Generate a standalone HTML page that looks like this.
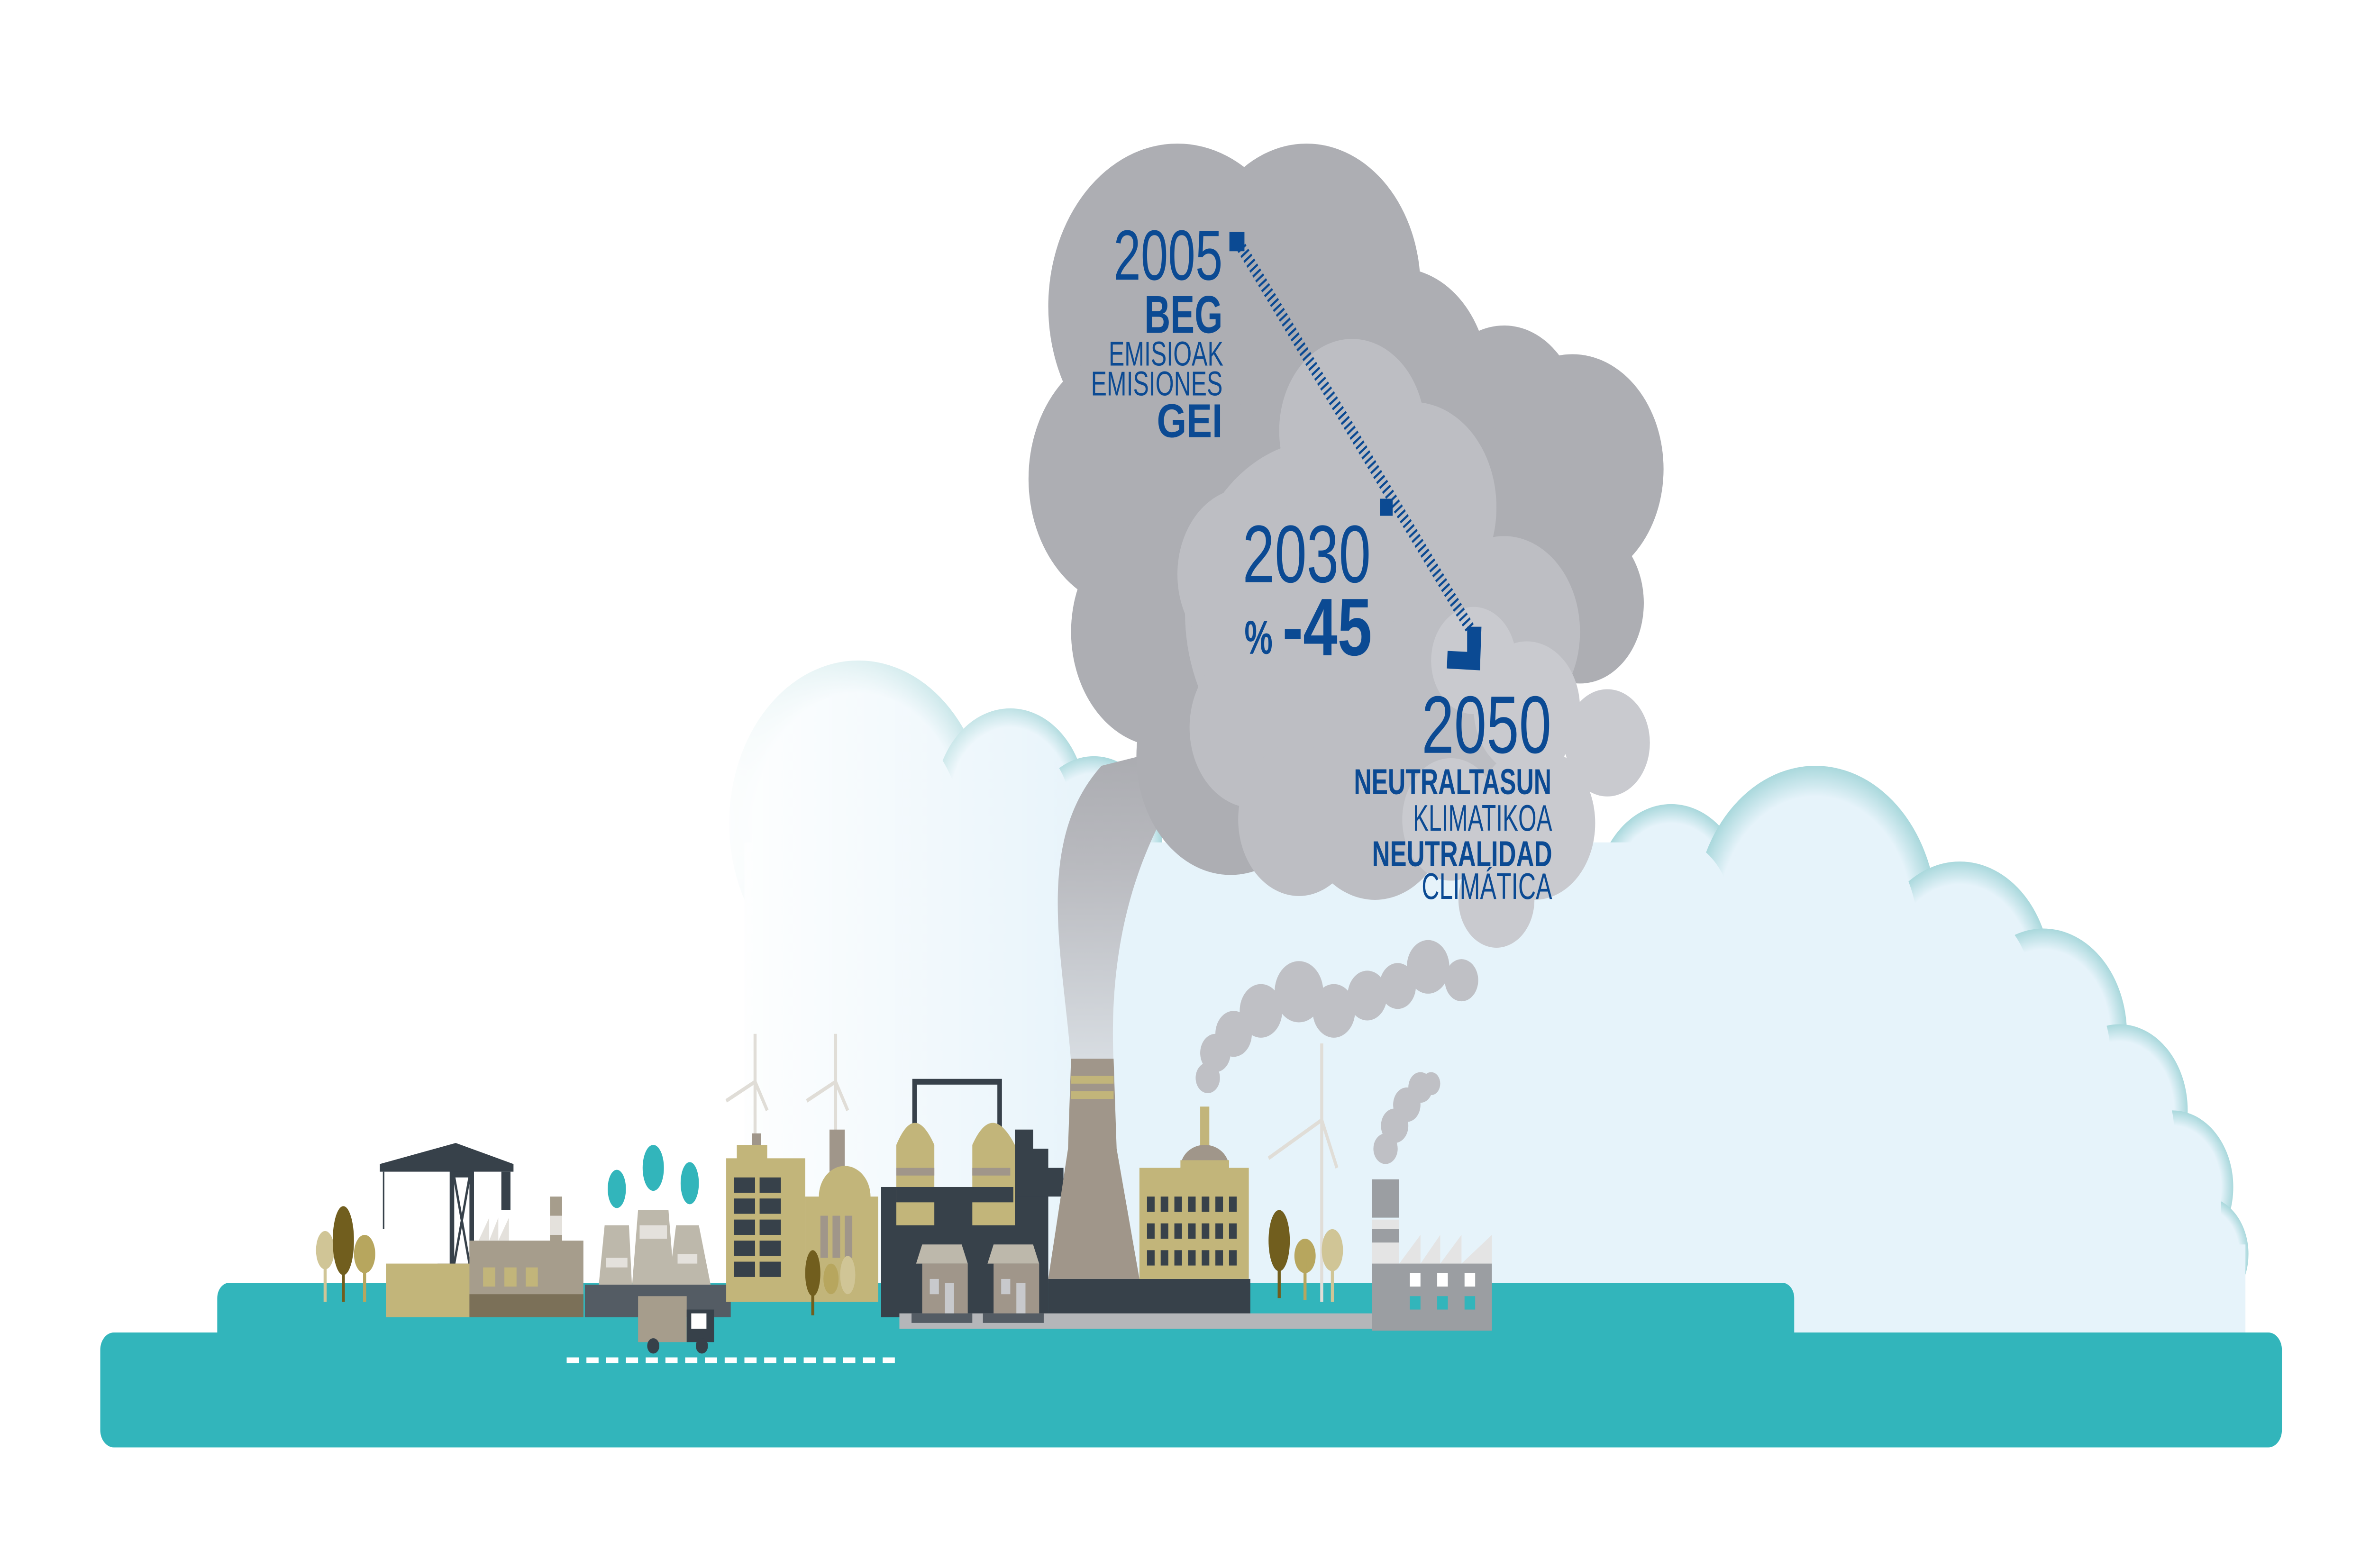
<!DOCTYPE html>
<html><head><meta charset="utf-8"><style>
html,body{margin:0;padding:0;background:#fff;width:100%;height:100%;overflow:hidden;}
svg{display:block;position:absolute;left:0;top:0;width:100vw;height:100vh;}
text{font-family:"Liberation Sans",sans-serif;fill:#0b4a93;}
.b{font-weight:bold;}
</style></head><body>
<svg viewBox="0 0 1560 819" preserveAspectRatio="none" xmlns="http://www.w3.org/2000/svg">
<defs>
<radialGradient id="bc" cx="0.5" cy="0.5" r="0.5">
<stop offset="0.8" stop-color="#e6f3fa"/><stop offset="1" stop-color="#a9d8dc"/></radialGradient>
<linearGradient id="wf" x1="0" x2="1" y1="0" y2="0">
<stop offset="0" stop-color="#fff" stop-opacity="1"/><stop offset="1" stop-color="#fff" stop-opacity="0"/></linearGradient>
<linearGradient id="pl" x1="0" x2="0" y1="1" y2="0">
<stop offset="0" stop-color="#d8dde2"/><stop offset="0.6" stop-color="#b9babf"/><stop offset="1" stop-color="#a9aaaf"/></linearGradient>
</defs>
<g fill="url(#bc)">
<circle cx="565" cy="430" r="85"/><circle cx="665" cy="420" r="50"/><circle cx="720" cy="440" r="45"/>
<circle cx="1100" cy="470" r="50"/><circle cx="1195" cy="480" r="80"/><circle cx="1290" cy="510" r="60"/>
<circle cx="1345" cy="540" r="55"/><circle cx="1395" cy="580" r="45"/><circle cx="1430" cy="620" r="40"/><circle cx="1450" cy="655" r="30"/>
</g>
<g fill="#e6f3fa">
<polygon points="490,696 490,440 1080,440 1080,475 1260,475 1260,525 1320,525 1320,565 1380,565 1380,610 1420,610 1420,650 1478,650 1478,696"/>
<circle cx="565" cy="440" r="70"/><circle cx="665" cy="425" r="40"/><circle cx="720" cy="445" r="36"/>
<circle cx="1100" cy="478" r="40"/><circle cx="1195" cy="490" r="68"/><circle cx="1290" cy="520" r="48"/>
<circle cx="1345" cy="550" r="44"/><circle cx="1395" cy="590" r="36"/><circle cx="1430" cy="630" r="32"/><circle cx="1450" cy="662" r="24"/>
</g>
<rect x="470" y="330" width="260" height="380" fill="url(#wf)"/>
<path d="M705,555 C700,500 680,440 725,400 L800,385 C765,420 728,470 733,555 Z" fill="url(#pl)"/>
<g fill="#adaeb3">
<circle cx="775" cy="160" r="85"/><circle cx="860" cy="150" r="75"/><circle cx="920" cy="200" r="60"/>
<circle cx="1035" cy="245" r="60"/><circle cx="990" cy="220" r="50"/><circle cx="745" cy="250" r="68"/>
<circle cx="765" cy="330" r="60"/><circle cx="810" cy="395" r="62"/><circle cx="1040" cy="315" r="42"/>
<circle cx="880" cy="300" r="100"/><circle cx="960" cy="300" r="80"/>
</g>
<g fill="#bdbec3">
<circle cx="890" cy="225" r="48"/><circle cx="870" cy="320" r="90"/><circle cx="820" cy="300" r="45"/>
<circle cx="825" cy="380" r="42"/><circle cx="855" cy="428" r="40"/><circle cx="930" cy="265" r="55"/>
<circle cx="990" cy="330" r="50"/><circle cx="960" cy="380" r="70"/><circle cx="905" cy="420" r="50"/>
</g>
<g fill="#c9cacf">
<circle cx="970" cy="345" r="28"/><circle cx="1005" cy="370" r="35"/><circle cx="1058" cy="388" r="28"/>
<circle cx="1010" cy="430" r="40"/><circle cx="985" cy="470" r="25"/><circle cx="955" cy="428" r="32"/>
</g>
<g fill="#bfc0c5">
<circle cx="795" cy="563" r="8"/><circle cx="800" cy="550" r="10"/><circle cx="812" cy="540" r="12"/>
<circle cx="830" cy="528" r="14"/><circle cx="855" cy="518" r="16"/><circle cx="878" cy="528" r="14"/>
<circle cx="900" cy="520" r="13"/><circle cx="920" cy="515" r="12"/><circle cx="940" cy="505" r="14"/><circle cx="962" cy="512" r="11"/>
<circle cx="912" cy="600" r="8"/><circle cx="918" cy="588" r="9"/><circle cx="926" cy="577" r="9"/><circle cx="935" cy="568" r="8"/><circle cx="942" cy="566" r="6"/>
</g>
<rect x="143" y="670" width="1038" height="40" rx="8" fill="#32b5bb"/>
<rect x="66" y="696" width="1436" height="60" rx="9" fill="#32b5bb"/>
<g fill="#d0c596"><ellipse cx="214" cy="653" rx="6" ry="10"/><rect x="213" y="655" width="2" height="25"/></g>
<g fill="#715e1e"><ellipse cx="226" cy="648" rx="7" ry="18"/><rect x="225" y="650" width="2" height="30"/></g>
<g fill="#b7a65e"><ellipse cx="240" cy="655" rx="7" ry="10"/><rect x="239" y="656" width="2" height="24"/></g>
<g fill="#37414a">
<rect x="296" y="608" width="16" height="54"/>
<polygon points="250,608 300,597 338,608 338,612 250,612"/>
<rect x="330" y="612" width="6" height="20"/>
<rect x="252" y="612" width="1" height="30"/>
<rect x="288" y="660" width="22" height="6"/>
</g>
<g fill="#fff"><rect x="299" y="615" width="10" height="45"/></g>
<g stroke="#37414a" stroke-width="1.5"><line x1="299" y1="615" x2="309" y2="660"/><line x1="309" y1="615" x2="299" y2="660"/></g>
<rect x="254" y="660" width="56" height="28" fill="#c2b57a"/>
<rect x="309" y="648" width="75" height="40" fill="#a69d8c"/>
<rect x="309" y="676" width="75" height="12" fill="#7b7058"/>
<polygon points="315,648 322,636 322,648 328,636 328,648 335,636 335,648" fill="#e4e1dc"/>
<rect x="362" y="625" width="8" height="30" fill="#a69d8c"/><rect x="362" y="635" width="8" height="10" fill="#e4e1dc"/>
<g fill="#c2b57a"><rect x="318" y="662" width="8" height="10"/><rect x="332" y="662" width="8" height="10"/><rect x="346" y="662" width="8" height="10"/></g>
<g fill="#bdb8ab">
<polygon points="398,640 414,640 416,672 394,672"/><polygon points="420,632 440,632 444,672 416,672"/><polygon points="445,640 460,640 468,672 440,672"/>
</g>
<g fill="#e4e1dc"><rect x="399" y="657" width="14" height="5"/><rect x="421" y="640" width="18" height="7"/><rect x="446" y="655" width="13" height="5"/></g>
<g fill="#32b5bb"><ellipse cx="406" cy="621" rx="6" ry="10"/><ellipse cx="430" cy="610" rx="7" ry="12"/><ellipse cx="454" cy="618" rx="6" ry="11"/></g>
<rect x="385" y="671" width="96" height="17" fill="#545c64"/>
<rect x="420" y="677" width="32" height="24" fill="#a69d8c"/>
<rect x="452" y="684" width="18" height="17" fill="#37414a"/><rect x="455" y="686" width="10" height="8" fill="#fff"/>
<circle cx="430" cy="703" r="4" fill="#37414a"/><circle cx="462" cy="703" r="4" fill="#37414a"/>
<g stroke="#e0ddd7" stroke-width="2" fill="none">
<line x1="497" y1="540" x2="497" y2="598"/><polyline points="478,575 497,565 505,580"/>
<line x1="550" y1="540" x2="550" y2="598"/><polyline points="531,575 550,565 558,580"/>
<line x1="870" y1="545" x2="870" y2="680"/><polyline points="835,605 870,585 880,610"/>
</g>
<rect x="495" y="592" width="6" height="10" fill="#a0968a"/>
<rect x="478" y="605" width="52" height="75" fill="#c2b57a"/><rect x="485" y="598" width="20" height="8" fill="#c2b57a"/>
<g fill="#37414a">
<rect x="483" y="615" width="14" height="8"/><rect x="483" y="626" width="14" height="8"/><rect x="483" y="637" width="14" height="8"/><rect x="483" y="648" width="14" height="8"/><rect x="483" y="659" width="14" height="8"/>
<rect x="500" y="615" width="14" height="8"/><rect x="500" y="626" width="14" height="8"/><rect x="500" y="637" width="14" height="8"/><rect x="500" y="648" width="14" height="8"/><rect x="500" y="659" width="14" height="8"/>
</g>
<rect x="546" y="590" width="10" height="25" fill="#a0968a"/>
<ellipse cx="556" cy="625" rx="17" ry="16" fill="#c2b57a"/>
<rect x="530" y="625" width="48" height="55" fill="#c2b57a"/>
<g fill="#a0968a"><rect x="540" y="635" width="5" height="22"/><rect x="548" y="635" width="5" height="22"/><rect x="556" y="635" width="5" height="22"/></g>
<g fill="#715e1e"><ellipse cx="535" cy="665" rx="5" ry="12"/><rect x="534" y="670" width="2" height="17"/></g>
<g fill="#b7a65e"><ellipse cx="547" cy="668" rx="5" ry="8"/></g><g fill="#d0c596"><ellipse cx="558" cy="666" rx="5" ry="10"/></g>
<rect x="580" y="620" width="110" height="68" fill="#37414a"/>
<path d="M602,598 L602,565 L658,565 L658,598" stroke="#37414a" stroke-width="3" fill="none"/>
<polygon points="668,590 680,590 680,600 690,600 690,610 700,610 700,625 668,625" fill="#37414a"/>
<g fill="#c2b57a">
<path d="M590,640 L590,598 Q602,575 615,598 L615,640 Z"/><path d="M640,640 L640,598 Q653,575 668,598 L668,640 Z"/>
</g>
<g fill="#a0968a"><rect x="590" y="610" width="25" height="4"/><rect x="640" y="610" width="25" height="4"/></g>
<g fill="#37414a"><rect x="590" y="620" width="26" height="8"/><rect x="639" y="620" width="28" height="8"/></g>
<polygon points="705,553 733,553 735,600 750,668 690,668 703,600" fill="#a0968a"/>
<g fill="#c2b57a"><rect x="705" y="562" width="28" height="4"/><rect x="705" y="570" width="28" height="4"/></g>
<rect x="690" y="668" width="133" height="20" fill="#37414a"/>
<rect x="790" y="578" width="6" height="22" fill="#c2b57a"/>
<ellipse cx="793" cy="610" rx="16" ry="12" fill="#a0968a"/>
<rect x="750" y="610" width="72" height="58" fill="#c2b57a"/><rect x="777" y="606" width="32" height="8" fill="#c2b57a"/>
<g fill="#37414a">
<rect x="755" y="625" width="5" height="8"/><rect x="764" y="625" width="5" height="8"/><rect x="773" y="625" width="5" height="8"/><rect x="782" y="625" width="5" height="8"/><rect x="791" y="625" width="5" height="8"/><rect x="800" y="625" width="5" height="8"/><rect x="809" y="625" width="5" height="8"/>
<rect x="755" y="639" width="5" height="8"/><rect x="764" y="639" width="5" height="8"/><rect x="773" y="639" width="5" height="8"/><rect x="782" y="639" width="5" height="8"/><rect x="791" y="639" width="5" height="8"/><rect x="800" y="639" width="5" height="8"/><rect x="809" y="639" width="5" height="8"/>
<rect x="755" y="653" width="5" height="8"/><rect x="764" y="653" width="5" height="8"/><rect x="773" y="653" width="5" height="8"/><rect x="782" y="653" width="5" height="8"/><rect x="791" y="653" width="5" height="8"/><rect x="800" y="653" width="5" height="8"/><rect x="809" y="653" width="5" height="8"/>
</g>
<rect x="592" y="686" width="313" height="8" fill="#b4b6b9"/>
<g fill="#bdb8ab"><polygon points="603,660 607,650 633,650 637,660"/><polygon points="650,660 654,650 680,650 684,660"/></g>
<g fill="#a0968a"><rect x="607" y="660" width="30" height="28"/><rect x="654" y="660" width="30" height="28"/></g>
<g fill="#c8c9cc"><rect x="612" y="668" width="6" height="8"/><rect x="622" y="670" width="6" height="18"/><rect x="659" y="668" width="6" height="8"/><rect x="669" y="670" width="6" height="18"/></g>
<g fill="#545c64"><rect x="600" y="686" width="40" height="5"/><rect x="647" y="686" width="40" height="5"/></g>
<g fill="#715e1e"><ellipse cx="842" cy="648" rx="7" ry="16"/><rect x="841" y="650" width="2" height="28"/></g>
<g fill="#b7a65e"><ellipse cx="859" cy="656" rx="7" ry="9"/><rect x="858" y="657" width="2" height="22"/></g>
<g fill="#d0c596"><ellipse cx="877" cy="653" rx="7" ry="11"/><rect x="876" y="655" width="2" height="25"/></g>
<rect x="903" y="616" width="18" height="20" fill="#9b9ea2"/><rect x="903" y="637" width="18" height="30" fill="#e4e4e4"/><rect x="903" y="642" width="18" height="7" fill="#9b9ea2"/>
<polygon points="921,660 935,645 935,660 948,645 948,660 962,645 962,660 982,645 982,660" fill="#e4e4e4"/>
<rect x="903" y="660" width="79" height="35" fill="#9b9ea2"/>
<g fill="#fff"><rect x="928" y="665" width="7" height="7"/><rect x="946" y="665" width="7" height="7"/><rect x="964" y="665" width="7" height="7"/></g>
<g fill="#32b5bb"><rect x="928" y="677" width="7" height="7"/><rect x="946" y="677" width="7" height="7"/><rect x="964" y="677" width="7" height="7"/></g>
<g fill="#fff">
<rect x="373" y="709" width="8" height="3"/><rect x="386" y="709" width="8" height="3"/><rect x="399" y="709" width="8" height="3"/><rect x="412" y="709" width="8" height="3"/><rect x="425" y="709" width="8" height="3"/><rect x="438" y="709" width="8" height="3"/><rect x="451" y="709" width="8" height="3"/><rect x="464" y="709" width="8" height="3"/><rect x="477" y="709" width="8" height="3"/><rect x="490" y="709" width="8" height="3"/><rect x="503" y="709" width="8" height="3"/><rect x="516" y="709" width="8" height="3"/><rect x="529" y="709" width="8" height="3"/><rect x="542" y="709" width="8" height="3"/><rect x="555" y="709" width="8" height="3"/><rect x="568" y="709" width="8" height="3"/><rect x="581" y="709" width="8" height="3"/>
</g>
<g transform="scale(0.24762)">
<line x1="3300" y1="522" x2="3915" y2="1335" stroke="#0b4a93" stroke-width="26" stroke-dasharray="5 8"/>
<rect x="3268" y="489" width="40" height="41" fill="#0b4a93"/>
<rect x="3668" y="1052" width="34" height="36" fill="#0b4a93"/>
<polygon points="3900,1322 3938,1322 3934,1414 3846,1410 3848,1373 3900,1375" fill="#0b4a93"/>
<text x="3250" y="590" font-size="150" text-anchor="end" textLength="290" lengthAdjust="spacingAndGlyphs">2005</text>
<text class="b" x="3250" y="702" font-size="112" text-anchor="end" textLength="208" lengthAdjust="spacingAndGlyphs">BEG</text>
<text x="3252" y="771" font-size="72" text-anchor="end" textLength="305" lengthAdjust="spacingAndGlyphs">EMISIOAK</text>
<text x="3250" y="834" font-size="72" text-anchor="end" textLength="350" lengthAdjust="spacingAndGlyphs">EMISIONES</text>
<text class="b" x="3250" y="922" font-size="100" text-anchor="end" textLength="175" lengthAdjust="spacingAndGlyphs">GEI</text>
<text x="3644" y="1228" font-size="172" text-anchor="end" textLength="341" lengthAdjust="spacingAndGlyphs">2030</text>
<text class="b" x="3308" y="1379" font-size="100" textLength="75" lengthAdjust="spacingAndGlyphs">%</text>
<text class="b" x="3647" y="1382" font-size="172" text-anchor="end" textLength="238" lengthAdjust="spacingAndGlyphs">-45</text>
<text x="4124" y="1588" font-size="172" text-anchor="end" textLength="345" lengthAdjust="spacingAndGlyphs">2050</text>
<text class="b" x="4124" y="1675" font-size="76" text-anchor="end" textLength="525" lengthAdjust="spacingAndGlyphs">NEUTRALTASUN</text>
<text x="4126" y="1752" font-size="78" text-anchor="end" textLength="370" lengthAdjust="spacingAndGlyphs">KLIMATIKOA</text>
<text class="b" x="4126" y="1827" font-size="76" text-anchor="end" textLength="479" lengthAdjust="spacingAndGlyphs">NEUTRALIDAD</text>
<text x="4126" y="1896" font-size="78" text-anchor="end" textLength="347" lengthAdjust="spacingAndGlyphs">CLIMÁTICA</text>
</g>
</svg>
</body></html>
